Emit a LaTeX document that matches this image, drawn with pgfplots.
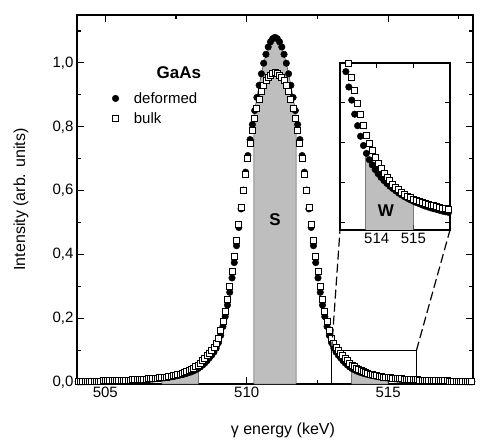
\documentclass[border=0pt]{standalone}
\usepackage{fontspec}
\setmainfont{Liberation Sans}
\usepackage{pgfplots}
\usepackage{pgfplotstable}
\pgfplotsset{compat=1.18}
\definecolor{fillgray}{RGB}{190,190,190}

\pgfplotstableread{
x def bulk
504.04 0.0019 0.0033
504.12 0.0020 0.0034
504.20 0.0021 0.0035
504.28 0.0022 0.0036
504.36 0.0023 0.0038
504.44 0.0023 0.0039
504.52 0.0024 0.0040
504.60 0.0025 0.0042
504.68 0.0026 0.0044
504.76 0.0027 0.0045
504.84 0.0029 0.0047
504.92 0.0030 0.0048
505.00 0.0032 0.0050
505.08 0.0034 0.0052
505.16 0.0035 0.0054
505.24 0.0037 0.0056
505.32 0.0040 0.0059
505.40 0.0042 0.0061
505.48 0.0044 0.0063
505.56 0.0047 0.0066
505.64 0.0049 0.0069
505.72 0.0052 0.0072
505.80 0.0055 0.0075
505.88 0.0058 0.0078
505.96 0.0062 0.0081
506.04 0.0066 0.0085
506.12 0.0070 0.0089
506.20 0.0074 0.0093
506.28 0.0079 0.0098
506.36 0.0084 0.0103
506.44 0.0089 0.0107
506.52 0.0094 0.0112
506.60 0.0100 0.0118
506.68 0.0106 0.0124
506.76 0.0113 0.0130
506.84 0.0121 0.0136
506.92 0.0128 0.0143
507.00 0.0136 0.0150
507.08 0.0145 0.0159
507.16 0.0154 0.0169
507.24 0.0164 0.0180
507.32 0.0175 0.0193
507.40 0.0187 0.0207
507.48 0.0201 0.0224
507.56 0.0215 0.0242
507.64 0.0230 0.0263
507.72 0.0247 0.0286
507.80 0.0265 0.0312
507.88 0.0285 0.0341
507.96 0.0308 0.0373
508.04 0.0334 0.0410
508.12 0.0363 0.0451
508.20 0.0395 0.0495
508.28 0.0435 0.0547
508.36 0.0484 0.0608
508.44 0.0542 0.0676
508.52 0.0608 0.0750
508.60 0.0680 0.0830
508.68 0.0768 0.0910
508.76 0.0850 0.0996
508.84 0.0946 0.1096
508.92 0.1070 0.1220
509.00 0.1240 0.1380
509.08 0.1470 0.1620
509.16 0.1750 0.1900
509.24 0.2060 0.2230
509.32 0.2420 0.2600
509.40 0.2820 0.3000
509.48 0.3270 0.3460
509.56 0.3750 0.3930
509.64 0.4280 0.4430
509.72 0.4850 0.4940
509.80 0.5430 0.5480
509.88 0.6020 0.6010
509.96 0.6580 0.6520
510.04 0.7100 0.7020
510.12 0.7600 0.7480
510.20 0.8070 0.7900
510.28 0.8510 0.8260
510.36 0.8920 0.8580
510.44 0.9300 0.8870
510.52 0.9660 0.9110
510.60 0.9990 0.9300
510.68 1.0270 0.9440
510.76 1.0500 0.9540
510.84 1.0660 0.9620
510.92 1.0760 0.9680
511.00 1.0800 0.9700
511.08 1.0760 0.9680
511.16 1.0660 0.9620
511.24 1.0500 0.9540
511.32 1.0270 0.9440
511.40 0.9990 0.9300
511.48 0.9660 0.9110
511.56 0.9300 0.8870
511.64 0.8920 0.8580
511.72 0.8510 0.8260
511.80 0.8070 0.7900
511.88 0.7600 0.7480
511.96 0.7100 0.7020
512.04 0.6580 0.6520
512.12 0.6020 0.6010
512.20 0.5430 0.5480
512.28 0.4850 0.4940
512.36 0.4280 0.4430
512.44 0.3750 0.3930
512.52 0.3270 0.3460
512.60 0.2820 0.3000
512.68 0.2420 0.2600
512.76 0.2060 0.2230
512.84 0.1750 0.1900
512.92 0.1470 0.1620
513.00 0.1240 0.1380
513.08 0.1070 0.1220
513.16 0.0946 0.1096
513.24 0.0850 0.0996
513.32 0.0768 0.0910
513.40 0.0680 0.0830
513.48 0.0608 0.0750
513.56 0.0542 0.0676
513.64 0.0484 0.0608
513.72 0.0435 0.0547
513.80 0.0395 0.0495
513.88 0.0363 0.0451
513.96 0.0334 0.0410
514.04 0.0308 0.0373
514.12 0.0285 0.0341
514.20 0.0265 0.0312
514.28 0.0247 0.0286
514.36 0.0230 0.0263
514.44 0.0215 0.0242
514.52 0.0201 0.0224
514.60 0.0187 0.0207
514.68 0.0175 0.0193
514.76 0.0164 0.0180
514.84 0.0154 0.0169
514.92 0.0145 0.0159
515.00 0.0136 0.0150
515.08 0.0128 0.0143
515.16 0.0121 0.0136
515.24 0.0113 0.0130
515.32 0.0106 0.0124
515.40 0.0100 0.0118
515.48 0.0094 0.0112
515.56 0.0089 0.0107
515.64 0.0084 0.0103
515.72 0.0079 0.0098
515.80 0.0074 0.0093
515.88 0.0070 0.0089
515.96 0.0066 0.0085
516.04 0.0062 0.0081
516.12 0.0058 0.0078
516.20 0.0055 0.0075
516.28 0.0052 0.0072
516.36 0.0049 0.0069
516.44 0.0047 0.0066
516.52 0.0044 0.0063
516.60 0.0042 0.0061
516.68 0.0040 0.0059
516.76 0.0037 0.0056
516.84 0.0035 0.0054
516.92 0.0034 0.0052
517.00 0.0032 0.0050
517.08 0.0030 0.0048
517.16 0.0029 0.0047
517.24 0.0027 0.0045
517.32 0.0026 0.0044
517.40 0.0025 0.0042
517.48 0.0024 0.0040
517.56 0.0023 0.0039
517.64 0.0023 0.0038
517.72 0.0022 0.0036
517.80 0.0021 0.0035
517.88 0.0020 0.0034
517.96 0.0019 0.0033
}\data

\begin{document}
\begin{tikzpicture}
\useasboundingbox (-77bp,-60bp) rectangle (407bp,384bp);
\begin{axis}[
  name=main,
  width=396bp, height=369bp, scale only axis,
  xmin=504, xmax=518, ymin=-0.005, ymax=1.15,
  xtick={505,510,515}, xticklabels={505,510,515},
  minor xtick={507.5,512.5,517.5},
  ytick={0,0.2,0.4,0.6,0.8,1.0},
  yticklabels={{0,0},{0,2},{0,4},{0,6},{0,8},{1,0}},
  minor ytick={0.1,0.3,0.5,0.7,0.9,1.1},
  tick align=inside,
  major tick length=7bp, minor tick length=4bp,
  every tick/.style={black, line width=1.1bp},
  axis line style={line width=1.6bp},
  tick label style={font=\fontsize{15bp}{18bp}\selectfont},
  xlabel={γ energy (keV)}, ylabel={Intensity (arb. units)},
  label style={font=\fontsize{16bp}{19bp}\selectfont},
  xlabel style={at={(axis description cs:0.52,-0.1247)}, anchor=center},
  ylabel style={at={(axis description cs:-0.1414,0.5)}, anchor=center},
  clip=false,
  legend style={draw=none, fill=none, at={(0.081,0.802)}, anchor=north west,
    font=\fontsize{15bp}{18bp}\selectfont, column sep=13bp, row sep=4bp},
  legend cell align=left,
]
\addplot[fill=fillgray, draw=black!75, line width=0.5bp, forget plot] coordinates {
(510.25,-0.005) (510.25,0.8345) (510.28,0.851) (510.36,0.892) (510.44,0.930) (510.52,0.966)
(510.60,0.999) (510.68,1.027) (510.76,1.050) (510.84,1.066) (510.92,1.076) (511.00,1.080)
(511.08,1.076) (511.16,1.066) (511.24,1.050) (511.32,1.027) (511.40,0.999) (511.48,0.966)
(511.56,0.930) (511.64,0.892) (511.72,0.851) (511.75,0.8345)
(511.75,-0.005) (510.25,-0.005)};
\addplot[fill=fillgray, draw=black!75, line width=0.5bp, forget plot] coordinates {
(507.00,-0.005) (507.00,0.0136) (507.08,0.0145) (507.16,0.0154) (507.24,0.0164) (507.32,0.0175)
(507.40,0.0187) (507.48,0.0201) (507.56,0.0215) (507.64,0.0230) (507.72,0.0247) (507.80,0.0265)
(507.88,0.0285) (507.96,0.0308) (508.04,0.0334) (508.12,0.0363) (508.20,0.0395) (508.28,0.0435)
(508.30,0.0447) (508.30,-0.005) (507.00,-0.005)};
\addplot[fill=fillgray, draw=black!75, line width=0.5bp, forget plot] coordinates {
(513.70,-0.005) (513.70,0.0447) (513.72,0.0435) (513.80,0.0395) (513.88,0.0363) (513.96,0.0334)
(514.04,0.0308) (514.12,0.0285) (514.20,0.0265) (514.28,0.0247) (514.36,0.0230) (514.44,0.0215)
(514.52,0.0201) (514.60,0.0187) (514.68,0.0175) (514.76,0.0164) (514.84,0.0154) (514.92,0.0145)
(515.00,0.0136) (515.00,-0.005) (513.70,-0.005)};
\addplot[only marks, mark=*, mark size=3.3bp, black] table[x=x, y=def]{\data};
\addlegendentry{deformed}
\addplot[only marks, mark=square*, mark size=3.0bp,
  mark options={fill=white, draw=black, line width=0.8bp}] table[x=x, y=bulk]{\data};
\addlegendentry{bulk}
\addplot[black, line width=1.3bp, forget plot] coordinates {(513,-0.005) (513,0.1) (516,0.1) (516,-0.005)};
\node[font=\bfseries\fontsize{17bp}{20bp}\selectfont] at (axis cs:507.6,0.97) {GaAs};
\node[font=\bfseries\fontsize{17bp}{20bp}\selectfont] at (axis cs:511.0,0.51) {S};
\coordinate (rTL) at (axis cs:513,0.1);
\coordinate (rTR) at (axis cs:516,0.1);
\end{axis}

\begin{axis}[
  name=ins, at={(263bp,154bp)}, anchor=south west,
  width=110bp, height=167bp, scale only axis,
  xmin=513, xmax=516, ymin=-0.0044, ymax=0.1,
  xtick={514,515}, xticklabels={514,515},
  ytick={0,0.025,0.05,0.075}, yticklabels={},
  tick align=inside, major tick length=5bp,
  every tick/.style={black, line width=1bp},
  axis line style={line width=1.3bp},
  axis background/.style={fill=white},
  tick label style={font=\fontsize{15bp}{18bp}\selectfont},
]
\addplot[fill=fillgray, draw=black!75, line width=0.5bp] coordinates {
(513.70,-0.005) (513.70,0.0447) (513.72,0.0435) (513.80,0.0395) (513.88,0.0363) (513.96,0.0334)
(514.04,0.0308) (514.12,0.0285) (514.20,0.0265) (514.28,0.0247) (514.36,0.0230) (514.44,0.0215)
(514.52,0.0201) (514.60,0.0187) (514.68,0.0175) (514.76,0.0164) (514.84,0.0154) (514.92,0.0145)
(515.00,0.0136) (515.00,-0.005) (513.70,-0.005)};
\addplot[only marks, mark=*, mark size=3.3bp, black] table[x=x, y=def]{\data};
\addplot[only marks, mark=square*, mark size=3.0bp,
  mark options={fill=white, draw=black, line width=0.8bp}] table[x=x, y=bulk]{\data};
\node[font=\bfseries\fontsize{17bp}{20bp}\selectfont] at (axis cs:514.25,0.008) {W};
\end{axis}
\draw[line width=1.2bp, dash pattern=on 9bp off 4bp] (rTL) -- (ins.south west);
\draw[line width=1.2bp, dash pattern=on 9bp off 4bp] (rTR) -- (ins.south east);
\end{tikzpicture}
\end{document}
